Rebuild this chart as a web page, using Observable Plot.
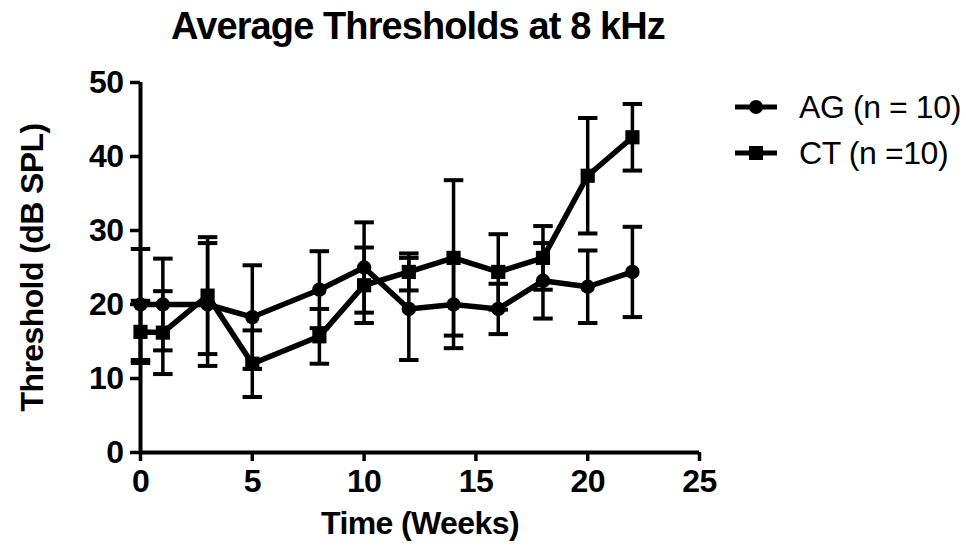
<!DOCTYPE html>
<html>
<head>
<meta charset="utf-8">
<script src="https://cdn.jsdelivr.net/npm/d3@7"></script>
<script src="https://cdn.jsdelivr.net/npm/@observablehq/plot@0.6"></script>
<style>
  body { margin: 0; background: #fff; font-family: "Liberation Sans", Arial, sans-serif; }
  #wrap { position: relative; width: 966px; height: 547px; overflow: hidden; }
  #title { position: absolute; left: 0; top: 5px; width: 836px; text-align: center;
           font-weight: bold; font-size: 38px; letter-spacing: -0.9px; color: #000; }
  #chart { position: absolute; left: 0; top: 60px; }
  #chart svg text { letter-spacing: -0.6px; }
  #legend { position: absolute; left: 733px; top: 84px; font-size: 32px; color: #000; letter-spacing: -0.4px; }
  #legend .row { display: flex; align-items: center; height: 46px; }
  #legend svg { margin-right: 20px; }
</style>
</head>
<body>
<div id="wrap">
  <div id="title">Average Thresholds at 8 kHz</div>
  <div id="chart"></div>
  <div id="legend"></div>
</div>
<script>
// Sampling times (weeks) and group means ± SEM of the 8 kHz thresholds (dB SPL)
const weeks  = [0, 1, 3, 5, 8, 10, 12, 14, 16, 18, 20, 22];
const agMean = [20.0, 20.0, 20.0, 18.3, 22.0, 25.0, 19.4, 20.0, 19.4, 23.2, 22.4, 24.4];
const agErr  = [7.5, 6.2, 8.3, 7.0, 5.2, 6.1, 6.9, 5.9, 3.4, 5.1, 4.9, 6.1];
const ctMean = [16.3, 16.2, 21.2, 12.0, 15.7, 22.6, 24.4, 26.3, 24.4, 26.3, 37.4, 42.6];
const ctErr  = [4.2, 5.6, 7.9, 4.5, 3.7, 5.1, 2.5, 10.5, 5.1, 4.3, 7.8, 4.5];

const groups = ["AG (n = 10)", "CT (n =10)"];
const xTicks = [0, 5, 10, 15, 20, 25];
const yTicks = [0, 10, 20, 30, 40, 50];

const rows = weeks.flatMap((w, i) => [
  {group: "AG", week: w, mean: agMean[i], err: agErr[i]},
  {group: "CT", week: w, mean: ctMean[i], err: ctErr[i]}
]);
const ag = rows.filter(d => d.group === "AG");
const ct = rows.filter(d => d.group === "CT");

// horizontal cap drawn at the ends of each error bar
const capSymbol = {
  draw(context, size) {
    const w = Math.sqrt(size);
    context.moveTo(-w, 0);
    context.lineTo(w, 0);
  }
};

const ink = "#000";
const chart = Plot.plot({
  width: 966,
  height: 487,
  marginLeft: 140,
  marginRight: 267,
  marginTop: 22,
  marginBottom: 95,
  style: {fontFamily: "Liberation Sans, Arial, sans-serif", color: ink, background: "#fff"},
  x: {domain: [0, 25]},
  y: {domain: [0, 50]},
  marks: [
    // error bars with caps
    Plot.ruleX(rows, {x: "week", y1: d => d.mean - d.err, y2: d => d.mean + d.err, stroke: ink, strokeWidth: 3.5}),
    Plot.dot(rows, {x: "week", y: d => d.mean + d.err, symbol: capSymbol, r: 5.5, stroke: ink, strokeWidth: 4, fill: "none"}),
    Plot.dot(rows, {x: "week", y: d => d.mean - d.err, symbol: capSymbol, r: 5.5, stroke: ink, strokeWidth: 4, fill: "none"}),
    // group means
    Plot.line(rows, {x: "week", y: "mean", z: "group", stroke: ink, strokeWidth: 5.5}),
    Plot.dot(ag, {x: "week", y: "mean", r: 7.2, fill: ink, stroke: "none"}),
    Plot.dot(ct, {x: "week", y: "mean", symbol: "square", r: 8, fill: ink, stroke: "none"}),
    // axes
    Plot.ruleY([0], {stroke: ink, strokeWidth: 4}),
    Plot.ruleX([0], {stroke: ink, strokeWidth: 4}),
    Plot.axisX({ticks: xTicks, tickSize: 9, tickPadding: 8, strokeWidth: 3.5, fontSize: 32, fontWeight: "bold", label: null}),
    Plot.axisY({ticks: yTicks, tickSize: 10, tickPadding: 7, strokeWidth: 3.5, fontSize: 32, fontWeight: "bold", label: null}),
    Plot.text(["Time (Weeks)"], {frameAnchor: "bottom", dy: 81, fontSize: 32, fontWeight: "bold", fill: ink}),
    Plot.text(["Threshold (dB SPL)"], {frameAnchor: "left", dx: -108, rotate: -90, textAnchor: "middle", fontSize: 32, fontWeight: "bold", fill: ink})
  ]
});
document.getElementById("chart").append(chart);

// legend: line segment with the group's marker, then its label
const legend = d3.select("#legend");
groups.forEach((label, i) => {
  const row = legend.append("div").attr("class", "row");
  const s = row.append("svg").attr("width", 46).attr("height", 20);
  s.append("line").attr("x1", 2).attr("x2", 44).attr("y1", 10).attr("y2", 10).attr("stroke", ink).attr("stroke-width", 5);
  if (i === 0) s.append("circle").attr("cx", 23).attr("cy", 10).attr("r", 7).attr("fill", ink);
  else s.append("rect").attr("x", 16).attr("y", 3).attr("width", 14).attr("height", 14).attr("fill", ink);
  row.append("span").text(label);
});
</script>
</body>
</html>
